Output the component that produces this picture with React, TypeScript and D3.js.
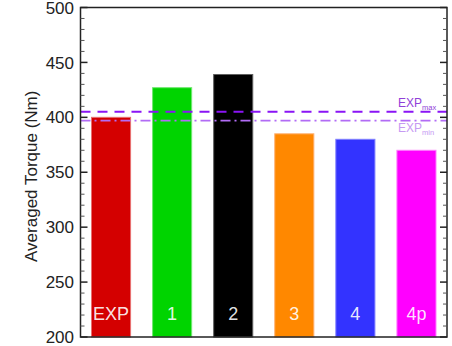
import React from "react";
import * as d3 from "d3";

// Averaged torque per case
const categories = ["EXP", "1", "2", "3", "4", "4p"];
const torque = [400, 427, 439, 385, 380, 370];
const barColors = ["#d40000", "#00d400", "#000000", "#ff8800", "#3333ff", "#ff00ff"];
const barStrokes = ["#e87070", "#70e870", "#606060", "#ffb070", "#8080ff", "#ff80ff"];

// Experimental bounds
const expMax = 405;
const expMin = 397;

const yTicksMajor = [200, 250, 300, 350, 400, 450, 500];

const W = 452;
const H = 346;
const left = 80.5;
const right = 447;
const top = 7.5;
const bottom = 337;

export default function App() {
  const x = d3
    .scaleBand<string>()
    .domain(categories)
    .range([left, right])
    .paddingInner(0.36)
    .paddingOuter(0.18);
  const y = d3.scaleLinear().domain([200, 500]).range([bottom, top]);
  const minorTicks = d3.range(200, 501, 10).filter((v) => v % 50 !== 0);
  const font = "'Liberation Sans', Arial, Helvetica, sans-serif";

  return (
    <svg
      width={W}
      height={H}
      style={{ position: "absolute", left: 0, top: 0, background: "#fff" }}
      fontFamily={font}
    >
      {/* bars */}
      {categories.map((c, i) => (
        <rect
          key={c}
          x={x(c)}
          y={y(torque[i])}
          width={x.bandwidth()}
          height={y(200) - y(torque[i])}
          fill={barColors[i]}
          stroke={barStrokes[i]}
          strokeWidth={1}
        />
      ))}
      {/* bar labels */}
      {categories.map((c) => (
        <text
          key={"l" + c}
          x={(x(c) as number) + x.bandwidth() / 2}
          y={320}
          textAnchor="middle"
          fontSize={18}
          fill="#ffffff"
          fillOpacity={0.9}
        >
          {c}
        </text>
      ))}

      {/* experimental range lines */}
      <line
        x1={left}
        x2={right}
        y1={y(expMax)}
        y2={y(expMax)}
        stroke="#8a14f5"
        strokeWidth={2}
        strokeDasharray="10,7"
      />
      <line
        x1={left}
        x2={right}
        y1={y(expMin)}
        y2={y(expMin)}
        stroke="#b26cf5"
        strokeWidth={1.6}
        strokeDasharray="10,4,2,4"
      />
      <text x={398} y={106.5} fontSize={12} fill="#9040d8">
        EXP<tspan fontSize={7.5} dy={3.5}>max</tspan>
      </text>
      <text x={398} y={131.5} fontSize={12} fill="#c69af2">
        EXP<tspan fontSize={7.5} dy={3.5}>min</tspan>
      </text>

      {/* frame */}
      <rect
        x={left}
        y={top}
        width={right - left}
        height={bottom - top}
        fill="none"
        stroke="#222"
        strokeWidth={1.5}
      />

      {/* ticks, left and right, pointing inward */}
      {yTicksMajor.map((v) => (
        <g key={"M" + v}>
          <line x1={left} x2={left + 7} y1={y(v)} y2={y(v)} stroke="#222" strokeWidth={1.5} />
          <line x1={right} x2={right - 7} y1={y(v)} y2={y(v)} stroke="#222" strokeWidth={1.5} />
          <text
            x={74}
            y={y(v)}
            dy="0.36em"
            textAnchor="end"
            fontSize={17}
            fill="#222"
          >
            {v}
          </text>
        </g>
      ))}
      {minorTicks.map((v) => (
        <g key={"m" + v}>
          <line x1={left} x2={left + 4} y1={y(v)} y2={y(v)} stroke="#555" strokeWidth={1} />
          <line x1={right} x2={right - 4} y1={y(v)} y2={y(v)} stroke="#555" strokeWidth={1} />
        </g>
      ))}

      {/* y axis title */}
      <text
        transform={`translate(37,${(bottom + top) / 2 + 4}) rotate(-90)`}
        textAnchor="middle"
        fontSize={17}
        fill="#222"
      >
        Averaged Torque (Nm)
      </text>
    </svg>
  );
}
